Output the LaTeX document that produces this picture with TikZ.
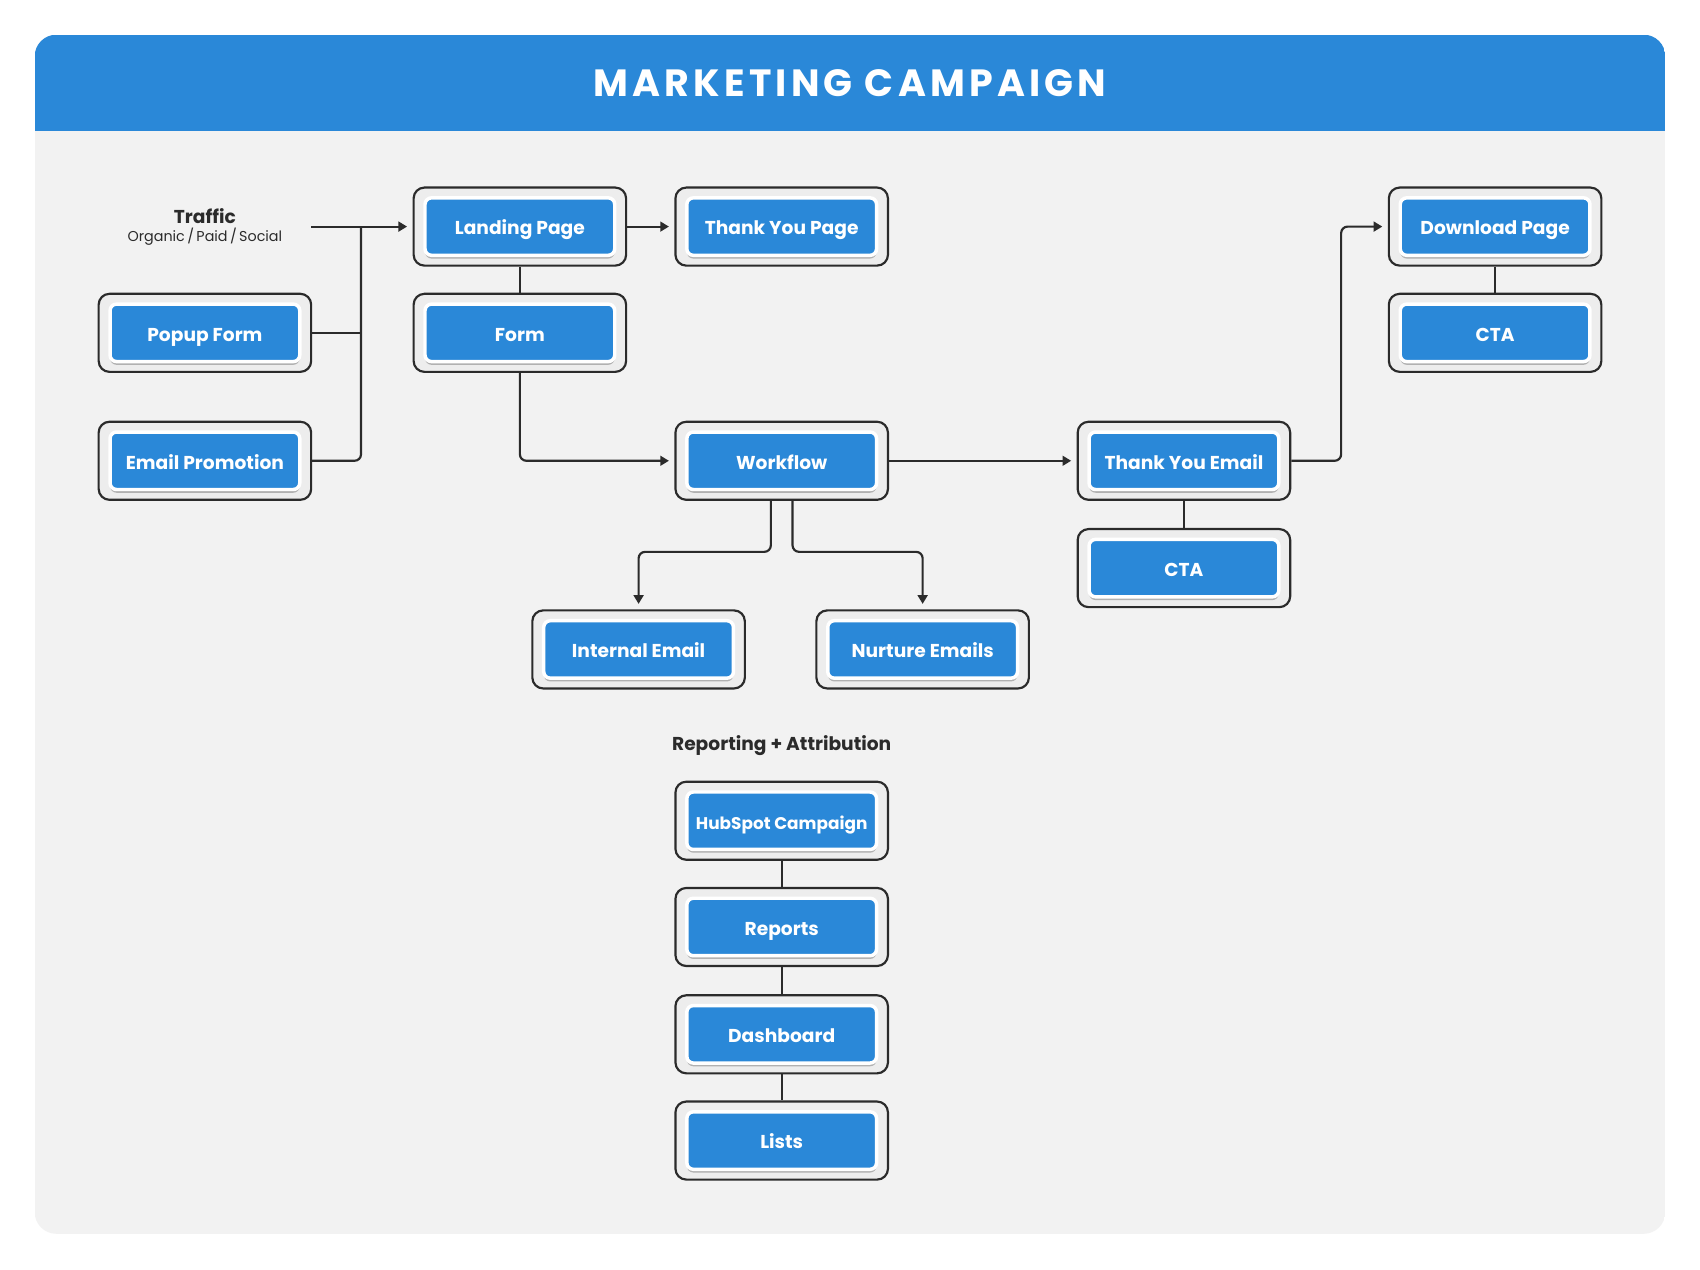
\documentclass[tikz,border=0pt]{standalone}
\usepackage{fontspec}
\setmainfont{Poppins}
\newfontfamily\titlefont[LetterSpace=11]{Poppins}
\usetikzlibrary{arrows.meta,shadows,calc}
\definecolor{cblue}{HTML}{2A88D8}
\definecolor{cbg}{HTML}{F2F2F2}
\definecolor{cline}{HTML}{2B2B2B}
\definecolor{cbox}{HTML}{EDEDED}
\tikzset{
  outerbox/.style={draw=cline, line width=1pt, fill=cbox, rounded corners=5pt,
    minimum width=98pt, minimum height=36pt, inner sep=0pt},
  innerbox/.style={draw=white, line width=1.6pt, fill=cblue, rounded corners=3pt,
    minimum width=87.5pt, minimum height=26.5pt, inner sep=0pt, text=white,
    text height=1.45ex, text depth=0.05ex,
    font=\bfseries\fontsize{8.6pt}{10pt}\selectfont,
    drop shadow={shadow xshift=0pt, shadow yshift=-1.5pt, opacity=0.25, fill=black}},
  conn/.style={draw=cline, line width=1pt, rounded corners=3pt},
  arr/.style={conn, -{Triangle[length=4pt,width=4.5pt]}, shorten >=2.5pt},
  lbl/.style={text=cline, inner sep=0pt}
}
\newcommand{\mkbox}[3]{%
  \node[outerbox] (#1) at (#2) {};
  \node[innerbox] (#1-in) at (#2) {#3};
}
\begin{document}
\begin{tikzpicture}[x=0.5pt,y=-0.5pt]
\useasboundingbox (0,0) rectangle (1568,1171);
\fill[white] (0,0) rectangle (1568,1171);
\begin{scope}
\clip[rounded corners=10pt] (32,32) rectangle (1536,1138);
\fill[cbg] (32,32) rectangle (1536,1138);
\fill[cblue] (32,32) rectangle (1536,121);
\end{scope}
\node[text=white, inner sep=0pt] (title) at (784,77) {\titlefont\bfseries\fontsize{17.5pt}{20pt}\selectfont MARKETING CAMPAIGN};

% nodes
\mkbox{lp}{479.5,209}{Landing Page}
\mkbox{typ}{721,209}{Thank You Page}
\mkbox{fm}{479.5,307}{Form}
\mkbox{pf}{189,307}{Popup Form}
\mkbox{ep}{189,425}{Email Promotion}
\mkbox{wf}{721,425}{Workflow}
\mkbox{tye}{1092,425}{Thank You Email}
\mkbox{cta2}{1092,524}{CTA}
\mkbox{dp}{1379,209}{Download Page}
\mkbox{cta1}{1379,307}{CTA}
\mkbox{ie}{589,599}{Internal Email}
\mkbox{ne}{851,599}{Nurture Emails}
\mkbox{hc}{721,757}{\fontsize{7.8pt}{9pt}\selectfont HubSpot Campaign}
\mkbox{rp}{721,855}{Reports}
\mkbox{db}{721,954}{Dashboard}
\mkbox{ls}{721,1052}{Lists}

% labels
\node[lbl, font=\bfseries\fontsize{8.6pt}{10pt}\selectfont] (traffic) at (189,199) {Traffic};
\node[lbl, font=\fontsize{6.6pt}{8pt}\selectfont] (traffic-sub) at (189,218) {Organic\,/\,Paid\,/\,Social};
\node[lbl, font=\bfseries\fontsize{8.6pt}{10pt}\selectfont] (rep) at (721,688) {Reporting + Attribution};

% connectors
\coordinate (tstart) at (287,209);
\coordinate (j) at (333,209);
\draw[arr] (tstart) -- (lp.west);
\draw[conn] (pf.east) -- (pf.east -| j);
\draw[conn] (ep.east) -| (j);
\draw[conn] (lp.south) -- (fm.north);
\draw[arr] (lp.east) -- (typ.west);
\draw[arr] (fm.south) |- (wf.west);
\draw[arr] (wf.east) -- (tye.west);
\draw[arr] (tye.east) -- ++(46,0) |- (dp.west);
\draw[conn] (tye.south) -- (cta2.north);
\draw[conn] (dp.south) -- (cta1.north);
\draw[arr] ([xshift=-5pt]wf.south) -- ++(0,47) -| (ie.north);
\draw[arr] ([xshift=5pt]wf.south) -- ++(0,47) -| (ne.north);
\draw[conn] (hc.south) -- (rp.north);
\draw[conn] (rp.south) -- (db.north);
\draw[conn] (db.south) -- (ls.north);
\end{tikzpicture}
\end{document}
